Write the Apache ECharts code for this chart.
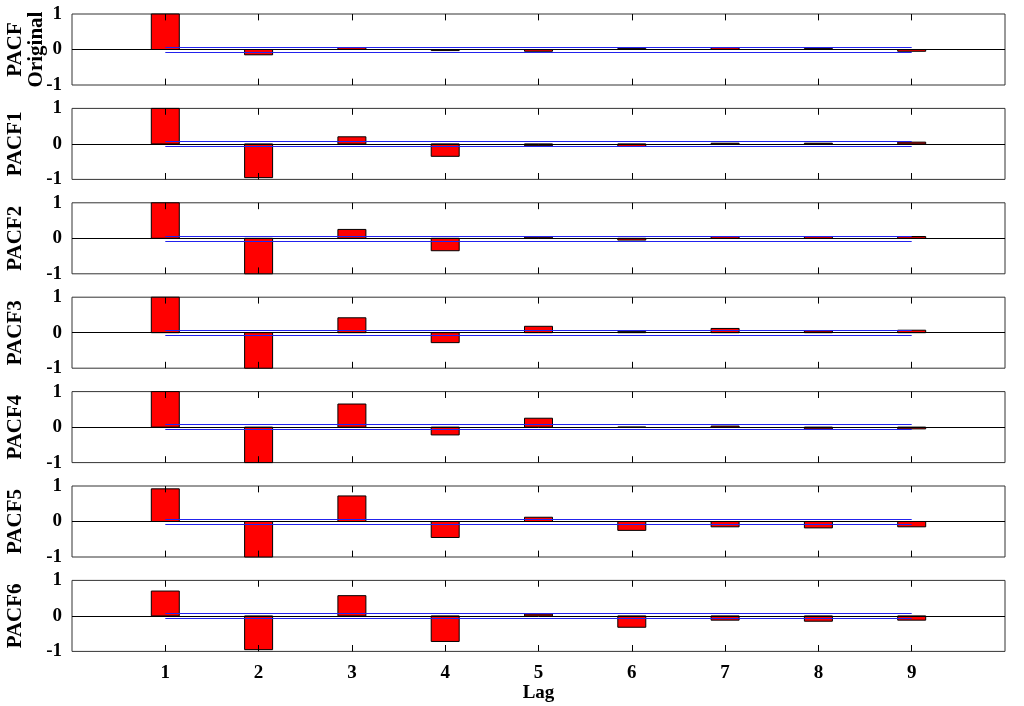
<!DOCTYPE html>
<html><head><meta charset="utf-8">
<script src="https://cdn.jsdelivr.net/npm/echarts@6/dist/echarts.min.js"></script>
<style>html,body{margin:0;padding:0;background:#fff}#c{width:1024px;height:706px}</style>
</head><body><div id="c"></div>
<script>
const lags = [1, 2, 3, 4, 5, 6, 7, 8, 9];
const panelNames = ['PACF', 'PACF1', 'PACF2', 'PACF3', 'PACF4', 'PACF5', 'PACF6'];
const firstPanelSubName = 'Original';
const pacfOriginal = [1, -0.15, 0.05, -0.03, -0.05, 0.03, 0.05, 0.03, -0.05];
const pacf1 = [1, -0.95, 0.2, -0.35, -0.05, -0.07, 0.02, 0.02, 0.05];
const pacf2 = [1, -1, 0.25, -0.35, 0.03, -0.05, 0.05, 0.05, 0.05];
const pacf3 = [1, -1.05, 0.42, -0.28, 0.18, 0.03, 0.12, 0.05, 0.07];
const pacf4 = [1, -1.02, 0.65, -0.22, 0.25, 0.0, 0.03, -0.05, -0.05];
const pacf5 = [0.92, -1.02, 0.72, -0.45, 0.12, -0.25, -0.15, -0.18, -0.15];
const pacf6 = [0.7, -0.95, 0.57, -0.72, 0.05, -0.32, -0.12, -0.15, -0.12];
const confBound = 0.07;
const yTicks = [-1, 0, 1];
const barHalf = 0.15;

const panels = [pacfOriginal, pacf1, pacf2, pacf3, pacf4, pacf5, pacf6];
const font = 'Liberation Serif';
const chart = echarts.init(document.getElementById('c'));
const grids = [], xAxes = [], yAxes = [], series = [];

function renderBar(params, api) {
  const x = api.value(0), v = api.value(1);
  const v0 = Math.max(-1, Math.min(1, v));
  const p1 = api.coord([x - barHalf, v0]);
  const p2 = api.coord([x + barHalf, 0]);
  return {
    type: 'rect',
    shape: { x: p1[0], y: Math.min(p1[1], p2[1]), width: p2[0] - p1[0], height: Math.abs(p2[1] - p1[1]) },
    style: { fill: '#ff0000', stroke: '#000', lineWidth: 1 }
  };
}

panels.forEach((vals, i) => {
  const top = 14 + i * 94.4;
  grids.push({ left: 72, right: 19, top: top, height: 71, show: true, borderColor: '#333', borderWidth: 1,
    containLabel: false, outerBoundsMode: 'none' });
  xAxes.push({
    type: 'value', gridIndex: i, min: 0, max: 10, interval: 1,
    axisLine: { show: false }, axisTick: { show: false }, splitLine: { show: false },
    axisLabel: {
      show: i === 6, color: '#000', fontFamily: font, fontWeight: 'bold', fontSize: 19, margin: 12,
      formatter: v => (lags.includes(v) ? v : '')
    },
    name: i === 6 ? 'Lag' : '', nameLocation: 'middle', nameGap: 32,
    nameTextStyle: { color: '#000', fontFamily: font, fontWeight: 'bold', fontSize: 19 }
  });
  yAxes.push({
    type: 'value', gridIndex: i, min: -1, max: 1, interval: 1,
    axisLine: { show: false }, axisTick: { show: false }, splitLine: { show: false },
    axisLabel: { color: '#000', fontFamily: font, fontWeight: 'bold', fontSize: 19, margin: 10,
      formatter: v => (yTicks.includes(v) ? v : '') },
    name: panelNames[i], nameLocation: 'middle', nameGap: 46, nameRotate: 90,
    nameTextStyle: { color: '#000', fontFamily: font, fontWeight: 'bold', fontSize: 21 }
  });
  series.push({
    type: 'custom', xAxisIndex: i, yAxisIndex: i, silent: true,
    data: lags.map((l, k) => [l, vals[k]]),
    renderItem: renderBar
  });
  series.push({
    type: 'line', xAxisIndex: i, yAxisIndex: i, data: [], silent: true, z: 5,
    markLine: {
      symbol: 'none', silent: true, label: { show: false },
      data: [
        [{ coord: [0, 0], lineStyle: { color: '#000', width: 1, type: 'solid' } }, { coord: [10, 0] }],
        [{ coord: [1, confBound], lineStyle: { color: '#2222ee', width: 1.2, type: 'solid' } }, { coord: [9, confBound] }],
        [{ coord: [1, -confBound], lineStyle: { color: '#2222ee', width: 1.2, type: 'solid' } }, { coord: [9, -confBound] }]
      ].concat(lags.flatMap(l => [
        [{ coord: [l, 1], lineStyle: { color: '#000', width: 1, type: 'solid' } }, { coord: [l, 0.82] }],
        [{ coord: [l, -1], lineStyle: { color: '#000', width: 1, type: 'solid' } }, { coord: [l, -0.82] }]
      ]))
    }
  });
});
chart.setOption({
  animation: false, grid: grids, xAxis: xAxes, yAxis: yAxes, series: series,
  graphic: [{
    type: 'text', x: 37, y: 49.5, rotation: Math.PI / 2,
    style: { text: firstPanelSubName, font: 'bold 21px "Liberation Serif"', fill: '#000', align: 'center', verticalAlign: 'middle' }
  }]
});
</script></body></html>
